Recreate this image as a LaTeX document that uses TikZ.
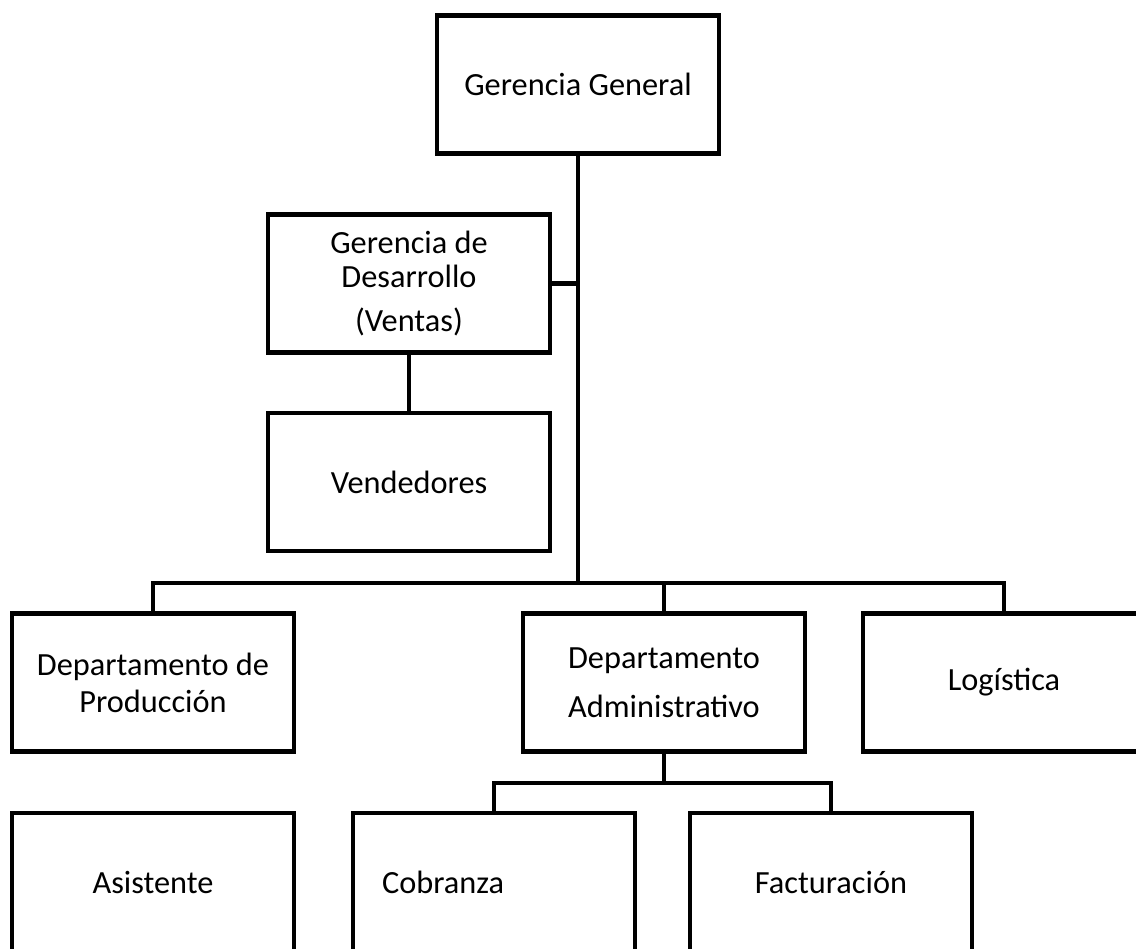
\documentclass[tikz,border=0pt]{standalone}
\usepackage{fontspec}
\setmainfont{Carlito}
\usetikzlibrary{positioning}

\tikzset{
	caja/.style={draw, line width=2.5pt, minimum width=5.64cm, minimum height=2.76cm, inner sep=0pt, align=center, font=\fontsize{18.4}{19.3}\selectfont},
	linea/.style={line width=2.5pt}
}

\begin{document}
\begin{tikzpicture}[x=0.02cm,y=-0.02cm]
	\useasboundingbox (0,0) rectangle (1136,949);
	\clip (0,0) rectangle (1136,949);
	\node (gg) [caja] at (578,84.5) {Gerencia General};
	\node (gd) [caja] at (409,283.5) {Gerencia de\\Desarrollo\\[6pt](Ventas)};
	\node (vend) [caja] at (409,482) {Vendedores};
	\node (dp) [caja] at (153,682.5) {Departamento de\\[1.7pt]Producción};
	\node (da) [caja] at (664,682.5) {Departamento\\[8.5pt]Administrativo};
	\node (log) [caja] at (1004,682.5) {Logística};
	\node (asis) [caja] at (153,882) {Asistente};
	\node (cob) [caja, text width=4.48cm, align=left, inner xsep=0.58cm] at (494,882) {Cobranza};
	\node (fac) [caja] at (831,882) {Facturación};
	
	\coordinate (j1) at (578,583);
	\coordinate (j2) at (664,783);
	
	\draw [linea] (gg.south) -- (j1);
	\draw [linea] (gd.east) -- (gd.east -| j1);
	\draw [linea] (gd) -- (vend);
	\draw [linea] (dp.north) |- (j1);
	\draw [linea] (log.north) |- (j1);
	\draw [linea] (da.north) -- (da.north |- j1);
	\draw [linea] (da.south) -- (j2);
	\draw [linea] (cob.north) |- (j2);
	\draw [linea] (fac.north) |- (j2);
\end{tikzpicture}
\end{document}
